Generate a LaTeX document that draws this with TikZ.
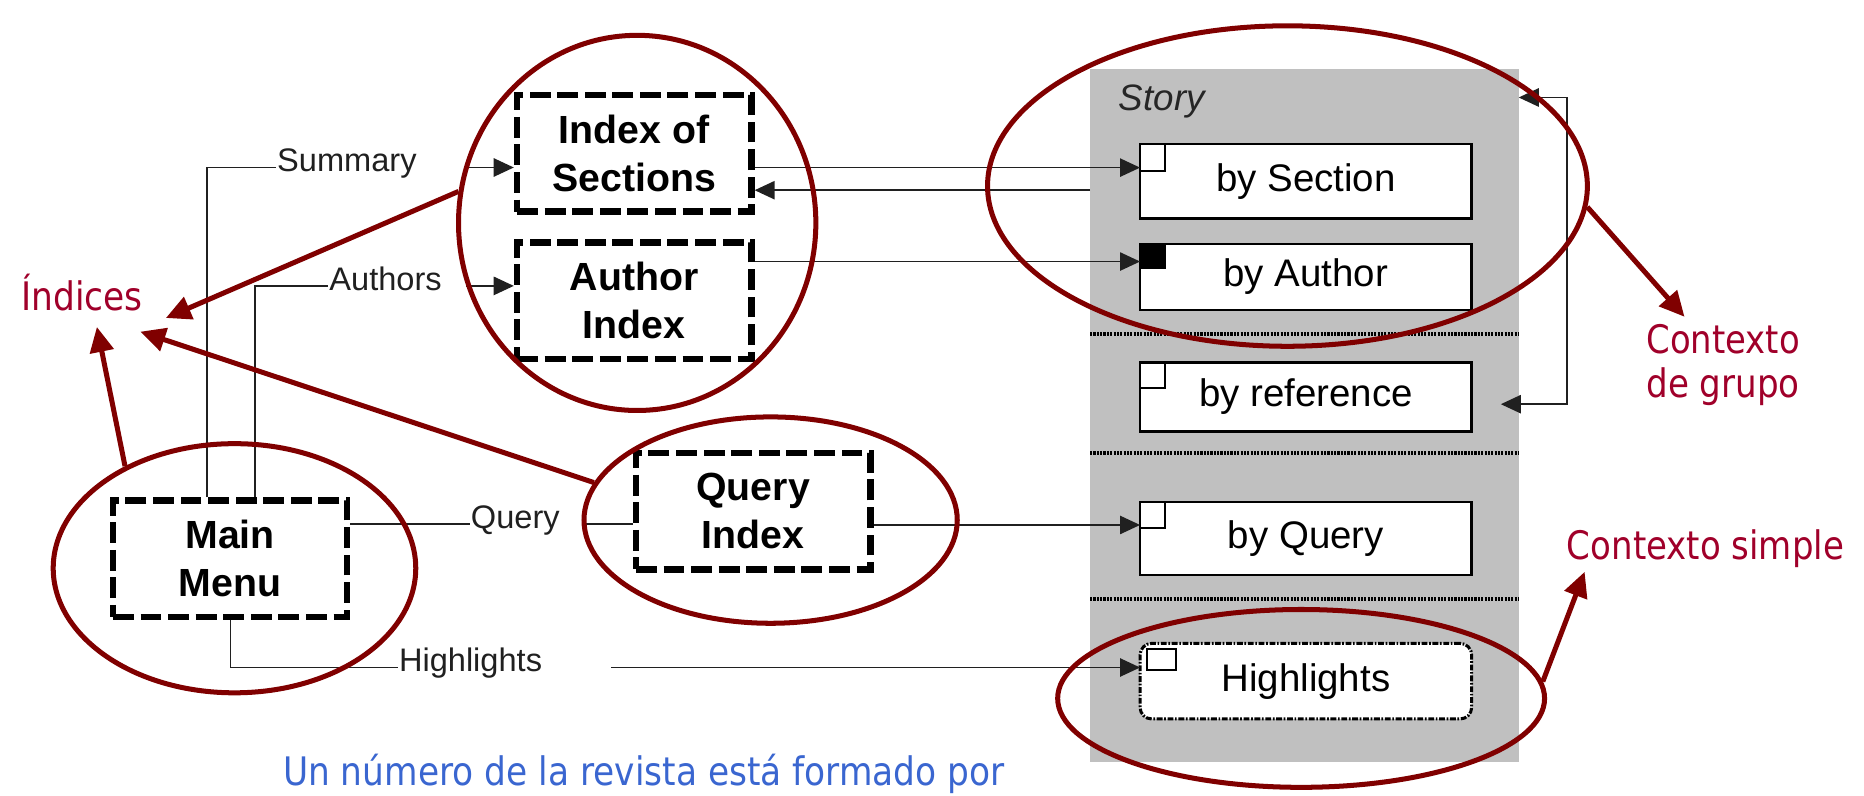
\documentclass[tikz,border=0pt]{standalone}
\usepackage{fontspec}
\usepackage{graphicx}
\setmainfont{Liberation Sans}
\newfontfamily\tahfont{DejaVu Sans}
\usetikzlibrary{arrows.meta,shapes.geometric,calc}
\definecolor{ellred}{HTML}{800000}
\definecolor{txtred}{HTML}{A0002A}
\definecolor{txtblue}{HTML}{3A66D0}
\definecolor{panelgray}{HTML}{C0C0C0}
\definecolor{linegray}{HTML}{202020}
\newcommand{\fitw}[2]{\resizebox{#1}{\height}{#2}}
\begin{document}
\begin{tikzpicture}[x=0.05cm,y=-0.05cm,
  dbox/.style={draw=black, line width=8pt, dash pattern=on 25pt off 8pt, minimum width=9.85cm, minimum height=4.9cm, inner sep=0pt, align=center, font=\fontsize{47}{57}\selectfont\bfseries},
  wbox/.style={draw=black, fill=white, line width=3.2pt, minimum width=13.95cm, inner sep=0pt, outer sep=0pt, font=\fontsize{46}{55}\selectfont},
  hbox/.style={wbox, line width=3.6pt, rounded corners=14pt, dash pattern=on 7pt off 2pt on 2pt off 2pt},
  lab/.style={anchor=base west, inner sep=0pt, text=linegray, font=\fontsize{39}{47}\selectfont},
  conn/.style={draw=linegray, line width=1.7pt},
  arr/.style={conn, -{Triangle[length=24pt,width=22pt]}},
  arrboth/.style={conn, {Triangle[length=24pt,width=22pt]}-{Triangle[length=24pt,width=22pt]}},
  sep/.style={draw=black, line width=4.8pt, dash pattern=on 2.5pt off 1.5pt},
  ell/.style={draw=ellred, line width=6pt, ellipse, inner sep=0pt},
  redarr/.style={draw=ellred, line width=6pt, -{Triangle[length=30pt,width=28pt]}},
  redtxt/.style={inner sep=0pt, text=txtred, font=\tahfont\fontsize{47}{53}\selectfont},
  bluetxt/.style={inner sep=0pt, text=txtblue, font=\tahfont\fontsize{47}{53}\selectfont},
  sq/.style={draw=black, line width=2.4pt}
]
\useasboundingbox (0,0) rectangle (1568,669);

% ---------- Story panel ----------
\node[fill=panelgray, minimum width=18.03cm, minimum height=29.15cm, inner sep=0pt, outer sep=0pt] (pan) at (1097.25,349.5) {};
\node[anchor=base west, inner sep=0pt, text=black!85, font=\fontsize{44}{53}\selectfont\itshape] (story) at (941,92.6) {Story};
\draw[sep] (917,281) -- (1277.5,281);
\draw[sep] (917,381) -- (1277.5,381);
\draw[sep] (917,504) -- (1277.5,504);

\node[wbox, minimum height=3.15cm] (bs) at (1098.5,152.5) {by Section};
\draw[sq] (bs.north west) rectangle ++(21,23);
\node[wbox, minimum height=2.78cm] (ba) at (1098.5,233) {by Author};
\filldraw[sq, fill=black] (ba.north west) rectangle ++(21,20);
\node[wbox, minimum height=2.88cm] (br) at (1098.5,334) {by reference};
\draw[sq] (br.north west) rectangle ++(21,21);
\node[wbox, minimum height=3.08cm] (bq) at (1098.5,453) {by Query};
\draw[sq] (bq.north west) rectangle ++(21,22);
\node[hbox, minimum height=3.18cm] (bh) at (1098.5,573) {Highlights};
\draw[sq] ($(bh.north west)+(6,5)$) rectangle ++(24,17);

% ---------- dashed boxes ----------
\node[dbox] (ios) at (533.5,129) {Index of\\Sections};
\node[dbox] (ai) at (533.5,253) {Author\\Index};
\node[dbox] (qi) at (633.5,430) {Query\\Index};
\node[dbox] (mm) at (193.5,470) {Main\\Menu};

% ---------- labels ----------
\node[lab] (lsum) at (233,144.4) {Summary};
\node[lab] (laut) at (277,244) {Authors};
\node[lab] (lqry) at (396,444.3) {Query};
\node[lab] (lhil) at (335.5,565) {Highlights};
\coordinate (csum) at ($(lsum.base west)+(-1,-3.5)$);
\coordinate (caut) at ($(laut.base west)+(-1,-3.5)$);
\coordinate (cqry) at ($(lqry.base west)+(-1,-3.5)$);
\coordinate (chil) at ($(lhil.base west)+(-1,-3.5)$);
\coordinate (xS) at (174,0);
\coordinate (xA) at (214.5,0);
\coordinate (xH) at (194,0);
\coordinate (gapA) at (392,0);
\coordinate (gapQ) at (493,0);
\coordinate (gapH) at (514,0);

% ---------- connectors ----------
\draw[conn] (mm.north -| xS) |- (csum);
\draw[arr] (csum -| gapA) -- (csum -| ios.west);
\draw[conn] (mm.north -| xA) |- (caut);
\draw[arr] (caut -| gapA) -- (caut -| ai.west);
\draw[conn] (cqry -| mm.east) -- (cqry);
\draw[conn] (cqry -| gapQ) -- (cqry -| qi.west);
\draw[conn] (mm.south -| xH) |- (chil);
\draw[arr] (chil -| gapH) -- (chil -| bh.west);

\coordinate (yS1) at (0,141);
\coordinate (yS2) at (0,160);
\coordinate (yA) at (0,220);
\coordinate (yQ) at (0,441.6);
\draw[arr] (ios.east |- yS1) -- (bs.west |- yS1);
\draw[arr] (pan.west |- yS2) -- (ios.east |- yS2);
\draw[arr] (ai.east |- yA) -- (ba.west |- yA);
\draw[arr] (qi.east |- yQ) -- (bq.west |- yQ);

\coordinate (fbB) at (1262.5,340);
\coordinate (fbR) at (1318,82);
\draw[arrboth] (fbB) -| (fbR) -- (pan.east |- fbR);

% ---------- red ellipses ----------
\node[ell, minimum width=15.03cm, minimum height=15.78cm] (e1) at (536,187.5) {};
\node[ell, minimum width=15.25cm, minimum height=10.48cm] (e2) at (197.25,478) {};
\node[ell, minimum width=15.7cm, minimum height=8.68cm] (e3) at (648.25,437.5) {};
\node[ell, minimum width=25.23cm, minimum height=13.48cm] (e4) at (1083,156.5) {};
\node[ell, minimum width=20.48cm, minimum height=7.48cm] (e5) at (1094.5,587.5) {};

% ---------- red and blue texts ----------
\node[redtxt, anchor=base west] (ind) at (18,261) {\fitw{5.1cm}{Índices}};
\node[redtxt, align=center] (cg) at (1449.5,307) {\fitw{6.45cm}{Contexto}\\\fitw{6.45cm}{de grupo}};
\node[redtxt, anchor=base west] (cs) at (1318,471) {\fitw{11.65cm}{Contexto simple}};
\node[bluetxt, anchor=base west] (blue) at (238,661) {\fitw{30.35cm}{Un número de la revista está formado por}};

\coordinate (t1) at (139.5,267.5);
\coordinate (t2) at (118,279);
\coordinate (t3) at (81.5,275);
\coordinate (t4) at (1417,266.5);
\coordinate (t5) at (1333,481);
\draw[redarr] (e1.170) -- (t1);
\draw[redarr] (e3.168) -- (t2);
\draw[redarr] (e2.137) -- (t3);
\draw[redarr] (e4.-4) -- (t4);
\draw[redarr] (e5.4) -- (t5);
\end{tikzpicture}
\end{document}
